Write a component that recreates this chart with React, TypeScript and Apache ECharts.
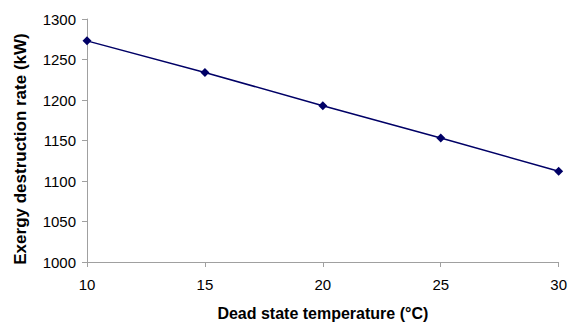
import React, { useEffect, useRef } from "react";
import * as echarts from "echarts";

const temperatures = [10, 15, 20, 25, 30];
const exergyDestruction = [1273, 1234, 1193, 1153, 1112];
const xTitle = "Dead state temperature (°C)";
const yTitle = "Exergy destruction rate (kW)";

export default function App() {
  const ref = useRef<HTMLDivElement>(null);
  useEffect(() => {
    if (!ref.current) return;
    const chart = echarts.init(ref.current, undefined, { renderer: "svg" });
    const font = "'Liberation Sans', Arial, sans-serif";
    chart.setOption({
      animation: false,
      backgroundColor: "#ffffff",
      grid: { left: 87, right: 7, top: 19, bottom: 62 },
      xAxis: {
        type: "value",
        min: 10,
        max: 30,
        interval: 5,
        name: xTitle,
        nameLocation: "middle",
        nameGap: 43,
        nameTextStyle: { fontFamily: font, fontSize: 16, fontWeight: "bold", color: "#000" },
        axisLine: { lineStyle: { color: "#a0a0a0", width: 1 } },
        axisTick: { show: true, length: 5, lineStyle: { color: "#a0a0a0" } },
        axisLabel: { fontFamily: font, fontSize: 15, color: "#000", margin: 15, formatter: (v: number) => String(v) },
        splitLine: { show: false },
      },
      yAxis: {
        type: "value",
        min: 1000,
        max: 1300,
        interval: 50,
        name: yTitle,
        nameLocation: "middle",
        nameGap: 58,
        nameTextStyle: { fontFamily: font, fontSize: 17, fontWeight: "bold", color: "#000", padding: [0, 17, 0, 0] },
        axisLine: { show: true, lineStyle: { color: "#a0a0a0", width: 1 } },
        axisTick: { show: true, length: 5, lineStyle: { color: "#a0a0a0" } },
        axisLabel: { fontFamily: font, fontSize: 15, color: "#000", margin: 11, formatter: (v: number) => String(v) },
        splitLine: { show: false },
      },
      series: [
        {
          type: "line",
          data: temperatures.map((t, i) => [t, exergyDestruction[i]]),
          symbol: "diamond",
          symbolSize: 9,
          lineStyle: { color: "#000066", width: 1.5 },
          itemStyle: { color: "#000066" },
        },
      ],
    });
    return () => chart.dispose();
  }, []);
  return <div ref={ref} style={{ width: 570, height: 326, position: "absolute", left: 0, top: 0 }} />;
}
